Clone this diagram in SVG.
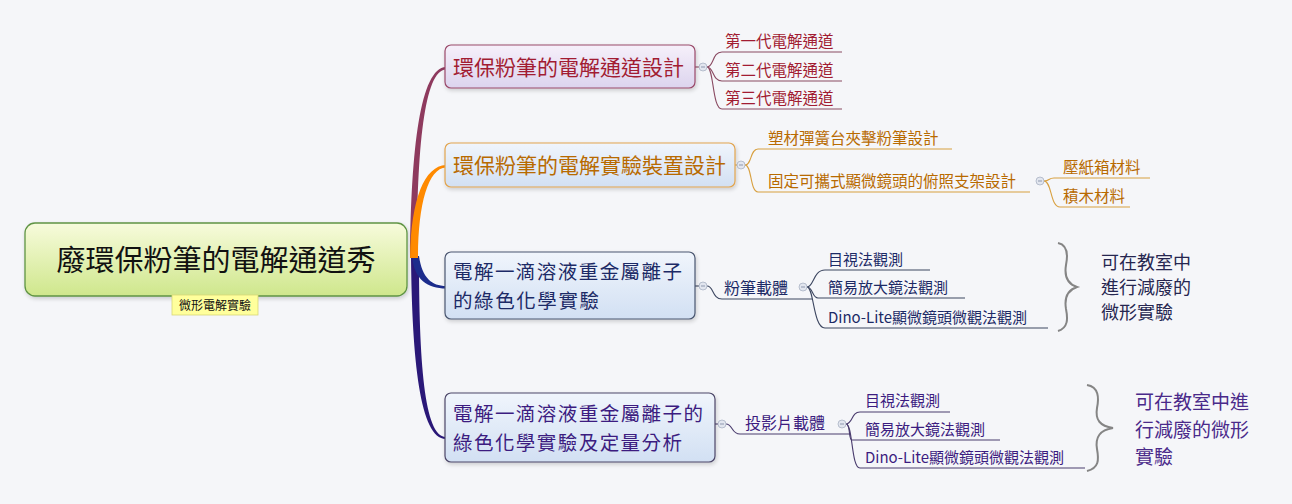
<svg xmlns="http://www.w3.org/2000/svg" width="1292" height="504" viewBox="0 0 1292 504">
<defs>
<linearGradient id="gRoot" x1="0" y1="0" x2="0" y2="1"><stop offset="0" stop-color="#f7fbdc"/><stop offset="1" stop-color="#cfe78c"/></linearGradient>
<linearGradient id="gLav" x1="0" y1="0" x2="0" y2="1"><stop offset="0" stop-color="#f6f0fa"/><stop offset="1" stop-color="#dcd4ee"/></linearGradient>
<linearGradient id="gBlue" x1="0" y1="0" x2="0" y2="1"><stop offset="0" stop-color="#f0f5fc"/><stop offset="1" stop-color="#d2e0f3"/></linearGradient>
<filter id="sh" x="-5%" y="-10%" width="110%" height="130%"><feGaussianBlur in="SourceAlpha" stdDeviation="2"/><feOffset dx="1" dy="2"/><feComponentTransfer><feFuncA type="linear" slope="0.18"/></feComponentTransfer><feMerge><feMergeNode/><feMergeNode in="SourceGraphic"/></feMerge></filter>
</defs>
<style>
text{font-family:"Noto Sans CJK TC","Noto Sans CJK SC",sans-serif}
.dot{fill:#e2e6ef;stroke:#aab2c4;stroke-width:0.8}
.dm{stroke:#8e98ae;stroke-width:1}
.c1{fill:none;stroke:#8a4a62;stroke-width:1.1}
.c2{fill:none;stroke:#d8a040;stroke-width:1.1}
.c3{fill:none;stroke:#3c4660;stroke-width:1.1}
.c4{fill:none;stroke:#4a3c6e;stroke-width:1.1}
.t1{fill:#a21c32}
.t2{fill:#b86a00}
.t3{fill:#1c2a66}
.t4{fill:#3c1c80}
.brace{fill:none;stroke:#858585;stroke-width:2}
</style>
<rect x="0" y="0" width="1292" height="504" fill="#f5f6f9"/>

<g id="connectors">
<path d="M411,256 C412,360 420,439 446,439 L446,437 C424,437 419,360 419,256 Z" fill="#2a1878"/>
<path d="M412,256 C414,280 428,288.5 446,288.5 L446,286 C432,286 422,278 419,256 Z" fill="#1c2c8c"/>
<path d="M410,258 C411,150 420,68 446,67 L446,69.5 C424,70 417,150 417,258 Z" fill="#8e3a5e"/>
<path d="M410,258 C411,200 424,166 446,165 L446,167.5 C428,168 418,205 418,258 Z" fill="#ff8a00"/>
<line x1="695" y1="67" x2="699" y2="67" class="c1"/>
<path class="c1" d="M707,67 C714,67 712,52 722,52"/>
<path class="c1" d="M707,67 C714,67 712,81 722,81"/>
<path class="c1" d="M707,67 C714,67 712,109 722,109"/>
<line x1="735" y1="165" x2="737" y2="165" class="c2"/>
<path class="c2" d="M745,165 C752,165 750,149 758,149"/>
<path class="c2" d="M745,165 C752,165 750,192 758,192"/>
<path class="c2" d="M1044,181 C1050,181 1048,178 1054,178"/>
<path class="c2" d="M1044,181 C1052,181 1050,207 1060,207"/>
<line x1="695" y1="286" x2="699" y2="286" class="c3"/>
<path class="c3" d="M707,286 C714,286 712,299 722,299"/>
<path class="c3" d="M807,287 C814,287 813,270 825,270"/>
<path class="c3" d="M807,287 C813,287 812,298 818,298"/>
<path class="c3" d="M807,287 C814,287 813,328 825,328"/>
<line x1="715" y1="424" x2="718" y2="424" class="c4"/>
<path class="c4" d="M726,424 C733,424 731,434 740,434"/>
<path class="c4" d="M846,424 C853,424 851,412 860,412"/>
<path class="c4" d="M846,424 C851,424 848,440 852,440"/>
<path class="c4" d="M846,424 C853,424 851,468 860,468"/>
</g>

<g id="root">
<rect x="25" y="223" width="382" height="73" rx="10" fill="url(#gRoot)" stroke="#5f9444" stroke-width="1.3" filter="url(#sh)"/>
<text x="216" y="271" font-size="29" text-anchor="middle" fill="#111">廢環保粉筆的電解通道秀</text>
</g>
<g id="root-label">
<rect x="172" y="295" width="86" height="20" fill="#ffff9c" stroke="#d8d878" stroke-width="0.8"/>
<text x="215" y="310" font-size="12" text-anchor="middle" fill="#111">微形電解實驗</text>
</g>

<g id="n1">
<rect x="445" y="45" width="250" height="43" rx="6" fill="url(#gLav)" stroke="#9a4a6a" stroke-width="1.2" filter="url(#sh)"/>
<text x="453" y="74.5" font-size="21" class="t1">環保粉筆的電解通道設計</text>
<circle cx="703" cy="67" r="4" class="dot"/><line x1="701" y1="67" x2="705" y2="67" class="dm"/>
</g>
<g id="n1c1"><line x1="722" y1="52" x2="842" y2="52" class="c1"/><text x="725" y="46.5" font-size="15.5" class="t1">第一代電解通道</text></g>
<g id="n1c2"><line x1="722" y1="81" x2="842" y2="81" class="c1"/><text x="725" y="75.5" font-size="15.5" class="t1">第二代電解通道</text></g>
<g id="n1c3"><line x1="722" y1="109" x2="842" y2="109" class="c1"/><text x="725" y="104" font-size="15.5" class="t1">第三代電解通道</text></g>

<g id="n2">
<rect x="445" y="143" width="290" height="44" rx="6" fill="url(#gBlue)" stroke="#e2a44e" stroke-width="1.2" filter="url(#sh)"/>
<text x="453" y="173" font-size="21" class="t2">環保粉筆的電解實驗裝置設計</text>
<circle cx="741" cy="165" r="4" class="dot"/><line x1="739" y1="165" x2="743" y2="165" class="dm"/>
</g>
<g id="n2c1"><line x1="758" y1="149" x2="952" y2="149" class="c2"/><text x="768" y="144" font-size="15.5" class="t2">塑材彈簧台夾擊粉筆設計</text></g>
<g id="n2c2"><line x1="758" y1="192" x2="1030" y2="192" class="c2"/><text x="768" y="187" font-size="15.5" class="t2">固定可攜式顯微鏡頭的俯照支架設計</text>
<circle cx="1040" cy="181" r="4" class="dot"/><line x1="1038" y1="181" x2="1042" y2="181" class="dm"/></g>
<g id="n2c2a"><line x1="1054" y1="178" x2="1150" y2="178" class="c2"/><text x="1063" y="173" font-size="15.5" class="t2">壓紙箱材料</text></g>
<g id="n2c2b"><line x1="1060" y1="207" x2="1130" y2="207" class="c2"/><text x="1063" y="202" font-size="15.5" class="t2">積木材料</text></g>

<g id="n3">
<rect x="445" y="252" width="250" height="67" rx="6" fill="url(#gBlue)" stroke="#4a5670" stroke-width="1.2" filter="url(#sh)"/>
<text x="453" y="278.5" font-size="19.5" textLength="229" lengthAdjust="spacing" class="t3">電解一滴溶液重金屬離子</text>
<text x="453" y="307.5" font-size="19.5" textLength="146" lengthAdjust="spacing" class="t3">的綠色化學實驗</text>
<circle cx="703" cy="286" r="4" class="dot"/><line x1="701" y1="286" x2="705" y2="286" class="dm"/>
</g>
<g id="n3c"><line x1="722" y1="299" x2="812" y2="299" class="c3"/><text x="724" y="294" font-size="16" class="t3">粉筆載體</text>
<circle cx="803" cy="287" r="4" class="dot"/><line x1="801" y1="287" x2="805" y2="287" class="dm"/></g>
<g id="n3c1"><line x1="825" y1="270" x2="930" y2="270" class="c3"/><text x="828" y="265" font-size="15" class="t3">目視法觀測</text></g>
<g id="n3c2"><line x1="818" y1="298" x2="965" y2="298" class="c3"/><text x="828" y="293" font-size="15" class="t3">簡易放大鏡法觀測</text></g>
<g id="n3c3"><line x1="825" y1="328" x2="1048" y2="328" class="c3"/><text x="828" y="323" font-size="15" class="t3">Dino-Lite顯微鏡頭微觀法觀測</text></g>
<g id="n3note">
<path class="brace" d="M1058,243 C1068,245 1068,255 1066,265 C1064,277 1068,284 1077,287 C1068,290 1064,297 1066,309 C1068,319 1068,328 1058,331"/>
<text x="1101" y="269" font-size="18" fill="#262650">可在教室中</text>
<text x="1101" y="294" font-size="18" fill="#262650">進行減廢的</text>
<text x="1101" y="319" font-size="18" fill="#262650">微形實驗</text>
</g>

<g id="n4">
<rect x="445" y="393" width="270" height="69" rx="6" fill="url(#gBlue)" stroke="#4c4668" stroke-width="1.2" filter="url(#sh)"/>
<text x="453" y="420.5" font-size="19.5" textLength="250" lengthAdjust="spacing" class="t4">電解一滴溶液重金屬離子的</text>
<text x="453" y="449.5" font-size="19.5" textLength="229" lengthAdjust="spacing" class="t4">綠色化學實驗及定量分析</text>
<circle cx="722" cy="424" r="4" class="dot"/><line x1="720" y1="424" x2="724" y2="424" class="dm"/>
</g>
<g id="n4c"><line x1="740" y1="434" x2="850" y2="434" class="c4"/><text x="745" y="429" font-size="16" class="t4">投影片載體</text>
<circle cx="842" cy="424" r="4" class="dot"/><line x1="840" y1="424" x2="844" y2="424" class="dm"/></g>
<g id="n4c1"><line x1="860" y1="412" x2="950" y2="412" class="c4"/><text x="865" y="406" font-size="15" class="t4">目視法觀測</text></g>
<g id="n4c2"><line x1="852" y1="440" x2="1000" y2="440" class="c4"/><text x="865" y="435" font-size="15" class="t4">簡易放大鏡法觀測</text></g>
<g id="n4c3"><line x1="860" y1="468" x2="1085" y2="468" class="c4"/><text x="865" y="463" font-size="15" class="t4">Dino-Lite顯微鏡頭微觀法觀測</text></g>
<g id="n4note">
<path class="brace" d="M1087,385 C1099,387 1099,398 1097,408 C1095,420 1100,426 1113,428 C1100,430 1095,437 1097,449 C1099,460 1099,468 1087,471"/>
<text x="1135" y="409" font-size="19" fill="#4a2a8a">可在教室中進</text>
<text x="1135" y="437" font-size="19" fill="#4a2a8a">行減廢的微形</text>
<text x="1135" y="464" font-size="19" fill="#4a2a8a">實驗</text>
</g>
</svg>
